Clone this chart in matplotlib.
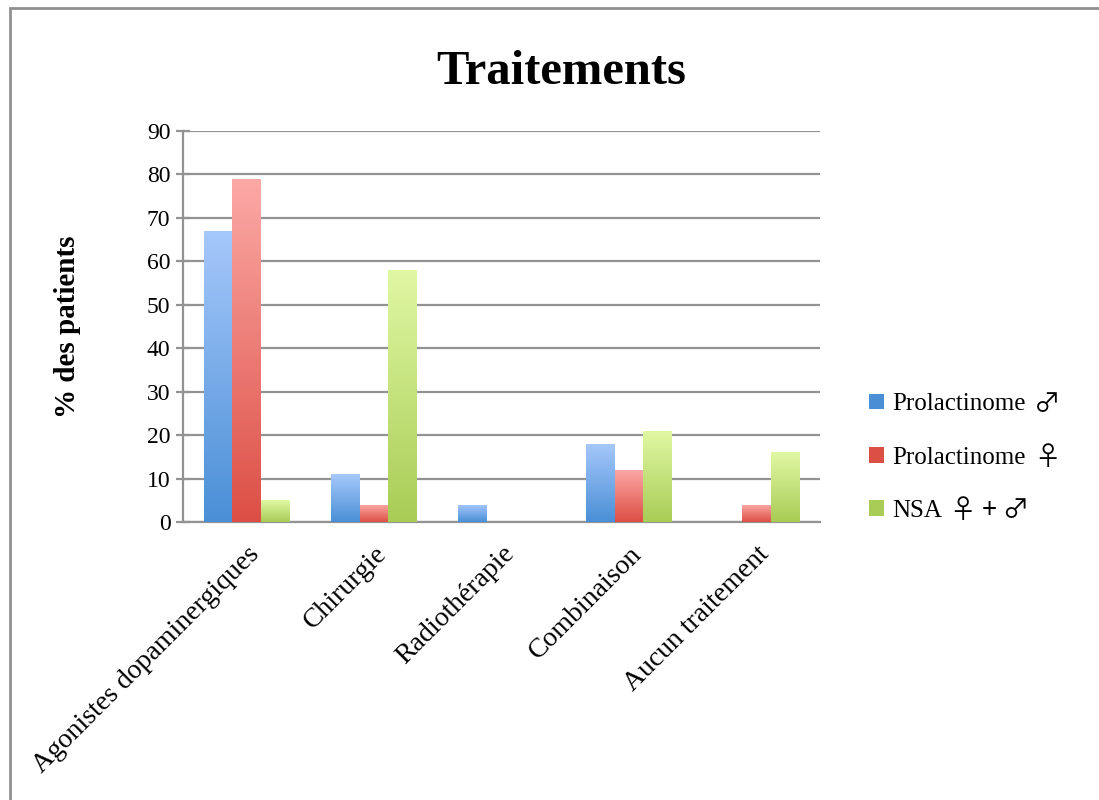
import matplotlib
matplotlib.use("Agg")
import matplotlib.pyplot as plt
import numpy as np
from matplotlib.colors import LinearSegmentedColormap
from matplotlib.patches import Rectangle

categories = ["Agonistes dopaminergiques", "Chirurgie", "Radiothérapie", "Combinaison", "Aucun traitement"]
series_names = ["Prolactinome", "Prolactinome", "NSA"]
series_symbols = ["♂", "♀", "♀ + ♂"]
prolactinome_m = [67, 11, 4, 18, 0]
prolactinome_f = [79, 4, 0, 12, 4]
nsa = [5, 58, 0, 21, 16]
yticks = [0, 10, 20, 30, 40, 50, 60, 70, 80, 90]

top_colors = ["#a6c8fb", "#fca9a6", "#e0f8a4"]
bot_colors = ["#4a8fd6", "#dc4f45", "#a8cc55"]

fam = ["Liberation Serif", "DejaVu Sans"]
plt.rcParams["font.family"] = fam

fig = plt.figure(figsize=(10.99, 8.0), dpi=100)
fig.patches.append(Rectangle((0.009, -0.01), 1.0, 1.0, transform=fig.transFigure,
                             fill=False, edgecolor="#909090", linewidth=2.0))
ax = fig.add_axes([0.1665, 0.3475, 0.5796, 0.4888])

x = np.arange(len(categories))
w = 0.225
offsets = [-w, 0, w]
data = [prolactinome_m, prolactinome_f, nsa]

for i, vals in enumerate(data):
    cmap = LinearSegmentedColormap.from_list("g%d" % i, [bot_colors[i], top_colors[i]])
    bars = ax.bar(x + offsets[i], vals, w, color=top_colors[i], zorder=3)
    for b, v in zip(bars, vals):
        if v <= 0:
            continue
        x0 = b.get_x()
        grad = np.linspace(0, 1, 256).reshape(-1, 1)
        im = ax.imshow(grad, cmap=cmap, aspect="auto", origin="lower",
                       extent=[x0, x0 + b.get_width(), 0, v], zorder=3.5,
                       vmin=0, vmax=1)
        im.set_clip_path(b)
        b.set_facecolor("none")
        b.set_edgecolor("none")

ax.set_xlim(-0.5, len(categories) - 0.5)
ax.set_ylim(0, 90)
ax.set_yticks(yticks)
ax.yaxis.grid(True, color="#939393", linewidth=1.6, zorder=0)
ax.set_axisbelow(True)
for s in ["top", "right"]:
    ax.spines[s].set_visible(False)
for s in ["left", "bottom"]:
    ax.spines[s].set_color("#939393")
    ax.spines[s].set_linewidth(1.6)
ax.tick_params(axis="y", direction="inout", length=10, width=1.6, color="#939393",
               labelsize=17, pad=4)
ax.tick_params(axis="x", length=0, labelsize=20, pad=14)
ax.set_xticks(x)
ax.set_xticklabels(categories, rotation=45, ha="right", rotation_mode="anchor")

ax.set_ylabel("% des patients", fontsize=21, fontweight="bold")
ax.yaxis.set_label_coords(-0.16, 0.5)
fig.text(0.511, 0.91, "Traitements", ha="center", va="center", fontsize=35, fontweight="bold")

handles = [Rectangle((0, 0), 1, 1, facecolor=c) for c in bot_colors]
leg = fig.legend(handles, series_names, loc="center left", bbox_to_anchor=(0.791, 0.428),
                 frameon=False, fontsize=18, handlelength=0.6, handleheight=0.6,
                 handletextpad=0.3, labelspacing=1.25, borderpad=0, borderaxespad=0)

fig.canvas.draw()
inv = fig.transFigure.inverted()
for t, sym in zip(leg.get_texts(), series_symbols):
    bb = t.get_window_extent()
    (x1, y0), (_, y1) = inv.transform([[bb.x1, bb.y0], [bb.x1, bb.y1]])
    fig.text(x1 + 0.008, (y0 + y1) / 2, sym, ha="left", va="center", fontsize=19,
             family=["Noto Sans CJK JP", "DejaVu Sans"])

fig.savefig("out.png", dpi=100)
